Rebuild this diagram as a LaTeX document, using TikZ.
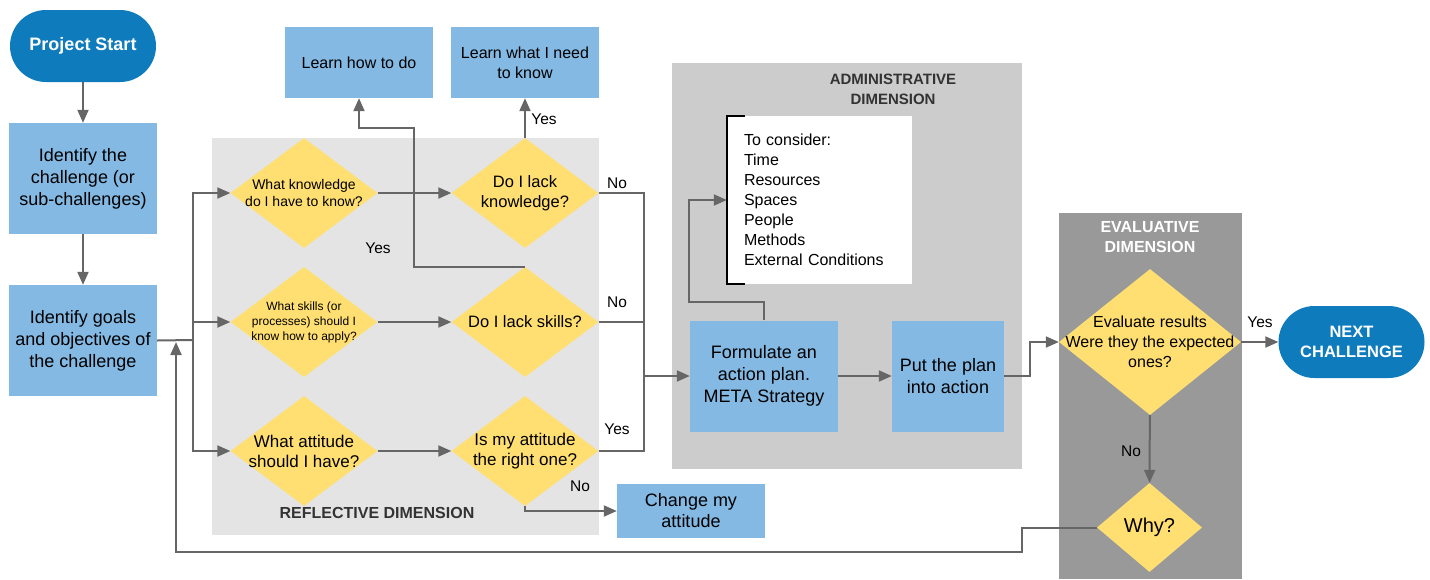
\documentclass[tikz,border=0pt]{standalone}
\usepackage{fontspec}
\setmainfont{Liberation Sans}
\usetikzlibrary{shapes.geometric, arrows.meta, calc}
\definecolor{cDark}{RGB}{14,123,188}
\definecolor{cLight}{RGB}{131,185,227}
\definecolor{cYel}{RGB}{255,223,113}
\definecolor{cRefl}{RGB}{228,228,228}
\definecolor{cAdm}{RGB}{204,204,204}
\definecolor{cEval}{RGB}{153,153,153}
\definecolor{cLine}{RGB}{102,102,102}
\definecolor{cTitle}{RGB}{51,51,51}
\newcommand{\fsz}[2]{\fontsize{#1}{#2}\selectfont}

\begin{document}
\begin{tikzpicture}[x=1pt, y=-1pt,
    every node/.style={font=\fsz{18}{22}, inner sep=0pt},
    term/.style={fill=cDark, text=white, align=center, minimum width=146pt,
                 minimum height=72pt, rounded corners=36pt},
    task/.style={fill=cLight, align=center, minimum width=148pt, minimum height=111pt},
    quest/.style={diamond, fill=cYel, minimum width=147pt, minimum height=110pt},
    area/.style={font=\bfseries\fsz{16}{20}, text=cTitle, align=center},
    flowline/.style={draw=cLine, line width=2pt},
    flowarrow/.style={flowline, -{Triangle[length=13pt,width=11pt]}},
    yesno/.style={font=\fsz{15.5}{19}}]

    \useasboundingbox (0,0) rectangle (1430,579);

    % Dimension areas
    \fill[cRefl] (212,138) rectangle (599,535);
    \fill[cAdm]  (672,63) rectangle (1022,469);
    \fill[cEval] (1059,213) rectangle (1242,579);
    \node[area] (reftitle) at (377,513) {REFLECTIVE DIMENSION};
    \node[area, font=\bfseries\fsz{15}{20}] (admtitle) at (893,89) {ADMINISTRATIVE\\DIMENSION};
    \node[area, text=white] (evtitle) at (1150,237) {EVALUATIVE\\DIMENSION};

    % Start column
    \node[term, font=\bfseries\fsz{18}{22}] (start) at (83,46) {Project Start};
    \node[task] (chal)  at (83,178.5) {Identify the\\challenge (or\\sub-challenges)};
    \node[task] (goals) at (83,340.5) {Identify goals\\and objectives of\\the challenge};

    % Reflective questions
    \node[quest, label={[align=center, font=\fsz{14}{17}]center:{What knowledge\\do I have to know?}}] (L1) at (304,193) {};
    \node[quest, label={[align=center, font=\fsz{12}{15}]center:{What skills (or\\processes) should I\\know how to apply?}}] (L2) at (304,322) {};
    \node[quest, label={[align=center, font=\fsz{17}{20}]center:{What attitude\\should I have?}}] (L3) at (304,451) {};
    \node[quest, label={[align=center, font=\fsz{16.5}{20}]center:{Do I lack\\knowledge?}}] (R1) at (525,193) {};
    \node[quest, label={[align=center, font=\fsz{16.5}{20}]center:{Do I lack skills?}}] (R2) at (525,322) {};
    \node[quest, label={[align=center, font=\fsz{17}{20}]center:{Is my attitude\\the right one?}}] (R3) at (525,451) {};

    \node[task, minimum height=71pt, font=\fsz{16}{20}] (learnhow)  at (359,62.5) {Learn how to do};
    \node[task, minimum height=71pt, font=\fsz{16}{20}] (learnwhat) at (525,62.5) {Learn what I need\\to know};
    \node[task, minimum height=54pt, font=\fsz{18}{21}] (change) at (691,511) {Change my\\attitude};

    % Administrative part
    \node[fill=white, minimum width=185pt, minimum height=168pt, text width=151pt,
          inner xsep=17pt, align=left, font=\fsz{16}{20}] (consider) at (819.5,200)
          {To consider:\\Time\\Resources\\Spaces\\People\\Methods\\External Conditions};
    \draw[black, line width=1.5pt] ([xshift=18pt]consider.north west) -- (consider.north west)
          -- (consider.south west) -- ([xshift=18pt]consider.south west);
    \node[task] (plan) at (764,376) {Formulate an\\action plan.\\META Strategy};
    \node[task, minimum width=112pt] (act) at (948,376) {Put the plan\\into action};

    % Evaluative part
    \node[quest, minimum width=182pt, minimum height=146pt,
          label={[align=center, font=\fsz{16}{20}]center:{Evaluate results\\Were they the expected\\ones?}}] (eval) at (1150,342) {};
    \node[quest, minimum width=105pt, minimum height=89pt,
          label={[font=\fsz{20}{24}]center:{Why?}}] (why) at (1149.5,527.5) {};
    \node[term, font=\bfseries\fsz{16.5}{20}] (next) at (1351.5,342) {NEXT\\CHALLENGE};

    % Connectors
    \draw[flowarrow] (start) -- (chal);
    \draw[flowarrow] (chal) -- (goals);
    \coordinate (fan) at (193,340);
    \draw[flowline] (goals.east) -- (fan);
    \draw[flowarrow] (fan) |- (L1.west);
    \draw[flowarrow] (fan) |- (L2.west);
    \draw[flowarrow] (fan) |- (L3.west);
    \draw[flowarrow] (L1) -- (R1);
    \draw[flowarrow] (L2) -- (R2);
    \draw[flowarrow] (L3) -- (R3);

    \draw[flowarrow] (R1.north) -- (learnwhat.south);
    \draw[flowarrow] (R2.north) -| (414,128) -| (learnhow.south);
    \draw[flowarrow] (R3.south) |- (change.west);

    \coordinate (merge) at (644,376);
    \draw[flowline] (R1.east) -| (merge);
    \draw[flowline] (R2.east) -- (R2.east -| merge);
    \draw[flowline] (R3.east) -| (merge);
    \draw[flowarrow] (merge) -- (plan.west);

    \draw[flowarrow] (plan.north) |- (689,302) |- (consider.west);
    \draw[flowarrow] (plan) -- (act);
    \draw[flowarrow] (act.east) -- ++(26,0) |- (eval.west);
    \draw[flowarrow] (eval) -- (next);
    \draw[flowarrow] (eval) -- (why);
    \draw[flowarrow] (why.west) -| (1022,552) -| (176,342);

    % Branch labels
    \node[yesno] (y1) at (544,119) {Yes};
    \node[yesno] (y2) at (378,248) {Yes};
    \node[yesno] (n1) at (617,183) {No};
    \node[yesno] (n2) at (617,302) {No};
    \node[yesno] (y3) at (617,429) {Yes};
    \node[yesno] (n3) at (580,486) {No};
    \node[yesno] (y4) at (1260,322) {Yes};
    \node[yesno] (n4) at (1131,451) {No};
\end{tikzpicture}
\end{document}
